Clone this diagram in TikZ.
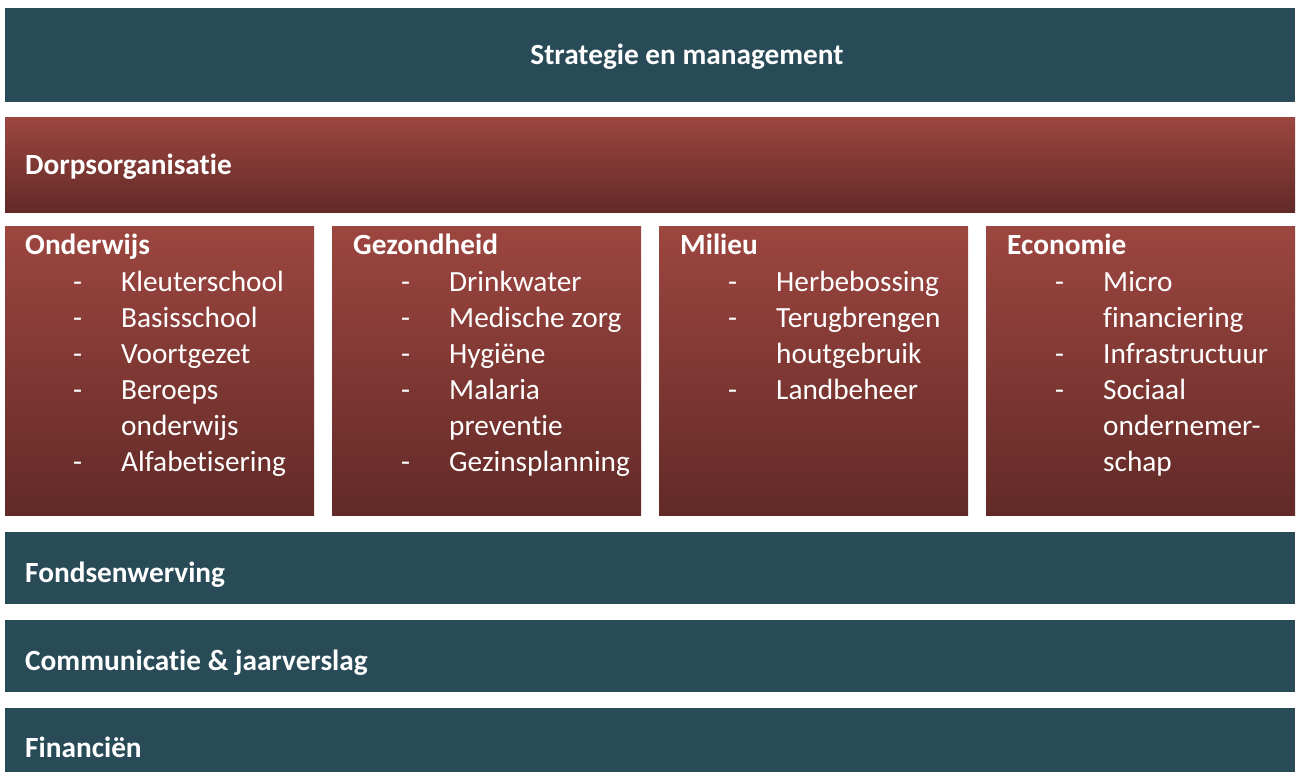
\documentclass[tikz,border=0pt]{standalone}
\usepackage{fontspec}
\setmainfont{Carlito}[Ligatures=NoCommon]
\usetikzlibrary{positioning}

\definecolor{bandblue}{RGB}{41,75,88}
\definecolor{bandredtop}{RGB}{157,70,64}
\definecolor{bandredbot}{RGB}{98,42,39}

\newcommand{\bandfont}{\fontsize{29.3pt}{36pt}\selectfont}
\newcommand{\bulletline}[1]{\makebox[96pt][l]{\hspace*{48pt}-}#1}
\newcommand{\wrapline}[1]{\hspace*{96pt}#1}

\begin{document}
\begin{tikzpicture}[x=1pt, y=-1pt,
                    band/.style={rectangle, anchor=north west, inner sep=0pt,
                                 fill=bandblue, minimum width=1290pt},
                    redband/.style={band, top color=bandredtop, bottom color=bandredbot},
                    column/.style={redband, minimum width=309pt, minimum height=289pt},
                    bandtitle/.style={anchor=base west, inner sep=0pt, text=white,
                                      font=\bandfont\bfseries},
                    itemlist/.style={anchor=base west, inner sep=0pt, text=white,
                                     font=\bandfont}]
  \fill [white] (0, 0) rectangle (1300, 772);
  \useasboundingbox (0, 0) rectangle (1300, 772);

  % Bands and columns.
  \node at (5, 8) [band, minimum height=94pt, name=Strategy] {};
  \node at (5, 117) [redband, minimum height=95pt, name=Village] {};
  \node at (5, 226) [column, name=Education] {};
  \node at (332, 226) [column, name=Health] {};
  \node at (659, 226) [column, name=Environment] {};
  \node at (986, 226) [column, name=Economy] {};
  \node at (5, 532) [band, minimum height=72pt, name=Fundraising] {};
  \node at (5, 620) [band, minimum height=72pt, name=Communication] {};
  \node at (5, 708) [band, minimum height=64pt, name=Finance] {};

  % Titles.
  \node at (687, 64) [bandtitle, anchor=base, name=StrategyText] {Strategie en management};
  \node at (25, 174) [bandtitle, name=VillageText] {Dorpsorganisatie};
  \node at (25, 254) [bandtitle, name=EducationTitle] {Onderwijs};
  \node at (353, 254) [bandtitle, name=HealthTitle] {Gezondheid};
  \node at (680, 254) [bandtitle, name=EnvironmentTitle] {Milieu};
  \node at (1007, 254) [bandtitle, name=EconomyTitle] {Economie};
  \node at (25, 582) [bandtitle, name=FundraisingText] {Fondsenwerving};
  \node at (25, 670) [bandtitle, name=CommunicationText] {Communicatie \& jaarverslag};
  \node at (25, 757) [bandtitle, name=FinanceText] {Financiën};

  % Column items.
  \node at (25, 291) [itemlist, name=EducationItems]
        {\begin{tabular}[t]{@{}l@{}}
         \bulletline{Kleuterschool}\\
         \bulletline{Basisschool}\\
         \bulletline{Voortgezet}\\
         \bulletline{Beroeps}\\
         \wrapline{onderwijs}\\
         \bulletline{Alfabetisering}
         \end{tabular}};
  \node at (353, 291) [itemlist, name=HealthItems]
        {\begin{tabular}[t]{@{}l@{}}
         \bulletline{Drinkwater}\\
         \bulletline{Medische zorg}\\
         \bulletline{Hygiëne}\\
         \bulletline{Malaria}\\
         \wrapline{preventie}\\
         \bulletline{Gezinsplanning}
         \end{tabular}};
  \node at (680, 291) [itemlist, name=EnvironmentItems]
        {\begin{tabular}[t]{@{}l@{}}
         \bulletline{Herbebossing}\\
         \bulletline{Terugbrengen}\\
         \wrapline{houtgebruik}\\
         \bulletline{Landbeheer}
         \end{tabular}};
  \node at (1007, 291) [itemlist, name=EconomyItems]
        {\begin{tabular}[t]{@{}l@{}}
         \bulletline{Micro}\\
         \wrapline{financiering}\\
         \bulletline{Infrastructuur}\\
         \bulletline{Sociaal}\\
         \wrapline{ondernemer-}\\
         \wrapline{schap}
         \end{tabular}};
\end{tikzpicture}
\end{document}
